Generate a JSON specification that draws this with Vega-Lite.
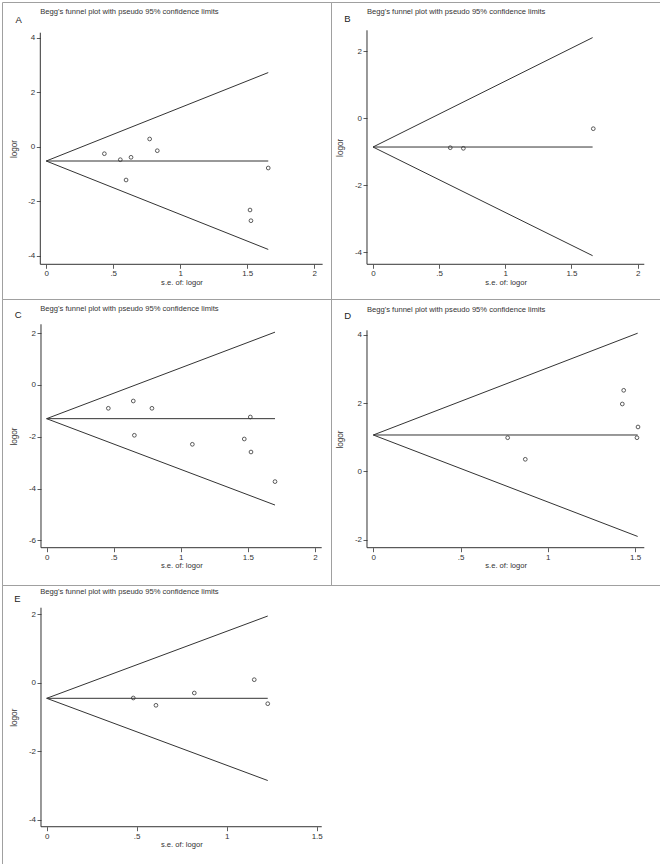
{
  "$schema": "https://vega.github.io/schema/vega-lite/v6.json",
  "background": "white",
  "padding": {"left": 1, "top": 1, "right": 0, "bottom": 0},
  "spacing": 0,
  "columns": 2,
  "bounds": "flush",
  "config": {
    "view": {"stroke": "#a0a0a0", "strokeWidth": 1},
    "font": "Liberation Sans",
    "concat": {"spacing": 0},
    "axis": {"domain": false, "grid": false, "labelFont": "Liberation Sans", "labelFontSize": 8, "labelColor": "#333", "tickColor": "#333", "tickSize": 4, "tickWidth": 0.8, "labelPadding": 1.5, "labelFlush": false, "labelOverlap": false, "titleFont": "Liberation Sans", "titleFontSize": 7.6, "titleFontWeight": "normal", "titleColor": "#333"},
    "axisY": {"titleFontSize": 8.2},
    "title": {"font": "Liberation Sans", "fontSize": 7.6, "fontWeight": "normal", "color": "#333", "anchor": "start", "frame": "group", "offset": 0, "baseline": "alphabetic"}
  },
  "concat": [
    {
      "width": 329, "height": 297,
      "title": {"text": "Begg's funnel plot with pseudo 95% confidence limits", "dx": 38.3, "dy": 17.7},
      "resolve": {"axis": {"x": "independent", "y": "independent"}},
      "layer": [
        {
          "data": {"values": [{"se": 0, "lim": -0.525, "se2": 1.657, "lim2": 2.72}, {"se": 0, "lim": -0.525, "se2": 1.657, "lim2": -0.525}, {"se": 0, "lim": -0.525, "se2": 1.657, "lim2": -3.77}]},
          "mark": {"type": "rule", "stroke": "#333", "strokeWidth": 1},
          "encoding": {
            "x": {"field": "se", "type": "quantitative", "scale": {"domain": [-0.3299, 2.1254], "nice": false, "zero": false}, "axis": {"orient": "top", "title": "A", "labels": false, "ticks": false, "titleX": 13, "titleY": 20.7, "titleAngle": 0, "titleAlign": "left", "titleBaseline": "alphabetic", "titleFontSize": 9.5, "titleColor": "#222"}},
            "x2": {"field": "se2"},
            "y": {"field": "lim", "type": "quantitative", "scale": {"domain": [-5.589, 5.310], "nice": false, "zero": false}, "axis": null},
            "y2": {"field": "lim2"}
          }
        },
        {
          "data": {"values": [{}]},
          "mark": {"type": "rule", "stroke": "#333", "strokeWidth": 1},
          "encoding": {
            "x": {"datum": -0.044, "type": "quantitative", "scale": {"domain": [-0.3299, 2.1254], "nice": false, "zero": false}, "axis": null},
            "y": {"datum": -4.316, "type": "quantitative", "scale": {"domain": [-5.589, 5.310], "nice": false, "zero": false}, "axis": null},
            "y2": {"datum": 4.183}
          }
        },
        {
          "data": {"values": [{}]},
          "mark": {"type": "rule", "stroke": "#333", "strokeWidth": 1},
          "encoding": {
            "x": {"datum": -0.044, "type": "quantitative", "scale": {"domain": [-0.3299, 2.1254], "nice": false, "zero": false}, "axis": null},
            "x2": {"datum": 2.063},
            "y": {"datum": -4.316, "type": "quantitative", "scale": {"domain": [-5.589, 5.310], "nice": false, "zero": false}, "axis": null}
          }
        },
        {
          "data": {"values": [
            {"se": 0.434, "logor": -0.257}, {"se": 0.553, "logor": -0.477}, {"se": 0.633, "logor": -0.389},
            {"se": 0.772, "logor": 0.283}, {"se": 0.829, "logor": -0.147}, {"se": 0.596, "logor": -1.222},
            {"se": 1.521, "logor": -2.323}, {"se": 1.528, "logor": -2.716}, {"se": 1.657, "logor": -0.782}
          ]},
          "mark": {"type": "point", "shape": "circle", "filled": false, "size": 14, "stroke": "#333", "strokeWidth": 0.8, "opacity": 1},
          "encoding": {
            "x": {"field": "se", "type": "quantitative", "scale": {"domain": [-0.3299, 2.1254], "nice": false, "zero": false}, "axis": {"orient": "bottom", "offset": -34.7, "values": [0, 0.5, 1, 1.5, 2], "labelExpr": "datum.value == 0.5 ? '.5' : toString(datum.value)", "title": "s.e. of: logor", "titleX": 179.5, "titleY": 20, "titleBaseline": "alphabetic", "titleAlign": "center"}},
            "y": {"field": "logor", "type": "quantitative", "scale": {"domain": [-5.589, 5.310], "nice": false, "zero": false}, "axis": {"orient": "left", "offset": -38.3, "values": [-4, -2, 0, 2, 4], "labelExpr": "toString(datum.value)", "title": "logor", "titleX": -22.3, "titleY": 146.5, "titleBaseline": "bottom", "titleAlign": "center", "titleAngle": 270}}
          }
        }
      ]
    },
    {
      "width": 329, "height": 297,
      "title": {"text": "Begg's funnel plot with pseudo 95% confidence limits", "dx": 36, "dy": 17.7},
      "resolve": {"axis": {"x": "independent", "y": "independent"}},
      "layer": [
        {
          "data": {"values": [{"se": 0, "lim": -0.866, "se2": 1.66, "lim2": 2.40}, {"se": 0, "lim": -0.866, "se2": 1.66, "lim2": -0.866}, {"se": 0, "lim": -0.866, "se2": 1.66, "lim2": -4.11}]},
          "mark": {"type": "rule", "stroke": "#333", "strokeWidth": 1},
          "encoding": {
            "x": {"field": "se", "type": "quantitative", "scale": {"domain": [-0.3175, 2.1693], "nice": false, "zero": false}, "axis": {"orient": "top", "title": "B", "labels": false, "ticks": false, "titleX": 12.7, "titleY": 19.7, "titleAngle": 0, "titleAlign": "left", "titleBaseline": "alphabetic", "titleFontSize": 9.5, "titleColor": "#222"}},
            "x2": {"field": "se2"},
            "y": {"field": "lim", "type": "quantitative", "scale": {"domain": [-5.403, 3.463], "nice": false, "zero": false}, "axis": null},
            "y2": {"field": "lim2"}
          }
        },
        {
          "data": {"values": [{}]},
          "mark": {"type": "rule", "stroke": "#333", "strokeWidth": 1},
          "encoding": {
            "x": {"datum": -0.0454, "type": "quantitative", "scale": {"domain": [-0.3175, 2.1693], "nice": false, "zero": false}, "axis": null},
            "y": {"datum": -4.367, "type": "quantitative", "scale": {"domain": [-5.403, 3.463], "nice": false, "zero": false}, "axis": null},
            "y2": {"datum": 2.618}
          }
        },
        {
          "data": {"values": [{}]},
          "mark": {"type": "rule", "stroke": "#333", "strokeWidth": 1},
          "encoding": {
            "x": {"datum": -0.0454, "type": "quantitative", "scale": {"domain": [-0.3175, 2.1693], "nice": false, "zero": false}, "axis": null},
            "x2": {"datum": 2.0506},
            "y": {"datum": -4.367, "type": "quantitative", "scale": {"domain": [-5.403, 3.463], "nice": false, "zero": false}, "axis": null}
          }
        },
        {
          "data": {"values": [
            {"se": 0.584, "logor": -0.887}, {"se": 0.683, "logor": -0.905}, {"se": 1.665, "logor": -0.319}
          ]},
          "mark": {"type": "point", "shape": "circle", "filled": false, "size": 14, "stroke": "#333", "strokeWidth": 0.8, "opacity": 1},
          "encoding": {
            "x": {"field": "se", "type": "quantitative", "scale": {"domain": [-0.3175, 2.1693], "nice": false, "zero": false}, "axis": {"orient": "bottom", "offset": -34.7, "values": [0, 0.5, 1, 1.5, 2], "labelExpr": "datum.value == 0.5 ? '.5' : toString(datum.value)", "title": "s.e. of: logor", "titleX": 174.65, "titleY": 20, "titleBaseline": "alphabetic", "titleAlign": "center"}},
            "y": {"field": "logor", "type": "quantitative", "scale": {"domain": [-5.403, 3.463], "nice": false, "zero": false}, "axis": {"orient": "left", "offset": -36, "values": [-4, -2, 0, 2], "labelExpr": "toString(datum.value)", "title": "logor", "titleX": -22.3, "titleY": 145.3, "titleBaseline": "bottom", "titleAlign": "center", "titleAngle": 270}}
          }
        }
      ]
    },
    {
      "width": 329, "height": 286,
      "title": {"text": "Begg's funnel plot with pseudo 95% confidence limits", "dx": 38.3, "dy": 17.7},
      "resolve": {"axis": {"x": "independent", "y": "independent"}},
      "layer": [
        {
          "data": {"values": [{"se": 0, "lim": -1.30, "se2": 1.702, "lim2": 2.04}, {"se": 0, "lim": -1.30, "se2": 1.702, "lim2": -1.30}, {"se": 0, "lim": -1.30, "se2": 1.702, "lim2": -4.635}]},
          "mark": {"type": "rule", "stroke": "#333", "strokeWidth": 1},
          "encoding": {
            "x": {"field": "se", "type": "quantitative", "scale": {"domain": [-0.3323, 2.1192], "nice": false, "zero": false}, "axis": {"orient": "top", "title": "C", "labels": false, "ticks": false, "titleX": 12.3, "titleY": 18.7, "titleAngle": 0, "titleAlign": "left", "titleBaseline": "alphabetic", "titleFontSize": 9.5, "titleColor": "#222"}},
            "x2": {"field": "se2"},
            "y": {"field": "lim", "type": "quantitative", "scale": {"domain": [-7.722, 3.320], "nice": false, "zero": false}, "axis": null},
            "y2": {"field": "lim2"}
          }
        },
        {
          "data": {"values": [{}]},
          "mark": {"type": "rule", "stroke": "#333", "strokeWidth": 1},
          "encoding": {
            "x": {"datum": -0.0417, "type": "quantitative", "scale": {"domain": [-0.3323, 2.1192], "nice": false, "zero": false}, "axis": null},
            "y": {"datum": -6.282, "type": "quantitative", "scale": {"domain": [-7.722, 3.320], "nice": false, "zero": false}, "axis": null},
            "y2": {"datum": 2.344}
          }
        },
        {
          "data": {"values": [{}]},
          "mark": {"type": "rule", "stroke": "#333", "strokeWidth": 1},
          "encoding": {
            "x": {"datum": -0.0417, "type": "quantitative", "scale": {"domain": [-0.3323, 2.1192], "nice": false, "zero": false}, "axis": null},
            "x2": {"datum": 2.050},
            "y": {"datum": -6.282, "type": "quantitative", "scale": {"domain": [-7.722, 3.320], "nice": false, "zero": false}, "axis": null}
          }
        },
        {
          "data": {"values": [
            {"se": 0.460, "logor": -0.90}, {"se": 0.646, "logor": -0.618}, {"se": 0.785, "logor": -0.90},
            {"se": 0.654, "logor": -1.942}, {"se": 1.086, "logor": -2.29}, {"se": 1.473, "logor": -2.085},
            {"se": 1.518, "logor": -1.236}, {"se": 1.523, "logor": -2.587}, {"se": 1.702, "logor": -3.73}
          ]},
          "mark": {"type": "point", "shape": "circle", "filled": false, "size": 14, "stroke": "#333", "strokeWidth": 0.8, "opacity": 1},
          "encoding": {
            "x": {"field": "se", "type": "quantitative", "scale": {"domain": [-0.3323, 2.1192], "nice": false, "zero": false}, "axis": {"orient": "bottom", "offset": -37.3, "values": [0, 0.5, 1, 1.5, 2], "labelExpr": "datum.value == 0.5 ? '.5' : toString(datum.value)", "title": "s.e. of: logor", "titleX": 179.35, "titleY": 20, "titleBaseline": "alphabetic", "titleAlign": "center"}},
            "y": {"field": "logor", "type": "quantitative", "scale": {"domain": [-7.722, 3.320], "nice": false, "zero": false}, "axis": {"orient": "left", "offset": -39, "values": [-6, -4, -2, 0, 2], "labelExpr": "toString(datum.value)", "title": "logor", "titleX": -22.3, "titleY": 137, "titleBaseline": "bottom", "titleAlign": "center", "titleAngle": 270}}
          }
        }
      ]
    },
    {
      "width": 329, "height": 286,
      "title": {"text": "Begg's funnel plot with pseudo 95% confidence limits", "dx": 36, "dy": 18.7},
      "resolve": {"axis": {"x": "independent", "y": "independent"}},
      "layer": [
        {
          "data": {"values": [{"se": 0, "lim": 1.065, "se2": 1.515, "lim2": 4.05}, {"se": 0, "lim": 1.065, "se2": 1.515, "lim2": 1.065}, {"se": 0, "lim": 1.065, "se2": 1.515, "lim2": -1.91}]},
          "mark": {"type": "rule", "stroke": "#333", "strokeWidth": 1},
          "encoding": {
            "x": {"field": "se", "type": "quantitative", "scale": {"domain": [-0.2424, 1.6430], "nice": false, "zero": false}, "axis": {"orient": "top", "title": "D", "labels": false, "ticks": false, "titleX": 12.7, "titleY": 19.7, "titleAngle": 0, "titleAlign": "left", "titleBaseline": "alphabetic", "titleFontSize": 9.5, "titleColor": "#222"}},
            "x2": {"field": "se2"},
            "y": {"field": "lim", "type": "quantitative", "scale": {"domain": [-3.334, 5.053], "nice": false, "zero": false}, "axis": null},
            "y2": {"field": "lim2"}
          }
        },
        {
          "data": {"values": [{}]},
          "mark": {"type": "rule", "stroke": "#333", "strokeWidth": 1},
          "encoding": {
            "x": {"datum": -0.0361, "type": "quantitative", "scale": {"domain": [-0.2424, 1.6430], "nice": false, "zero": false}, "axis": null},
            "y": {"datum": -2.240, "type": "quantitative", "scale": {"domain": [-3.334, 5.053], "nice": false, "zero": false}, "axis": null},
            "y2": {"datum": 4.135}
          }
        },
        {
          "data": {"values": [{}]},
          "mark": {"type": "rule", "stroke": "#333", "strokeWidth": 1},
          "encoding": {
            "x": {"datum": -0.0361, "type": "quantitative", "scale": {"domain": [-0.2424, 1.6430], "nice": false, "zero": false}, "axis": null},
            "x2": {"datum": 1.553},
            "y": {"datum": -2.240, "type": "quantitative", "scale": {"domain": [-3.334, 5.053], "nice": false, "zero": false}, "axis": null}
          }
        },
        {
          "data": {"values": [
            {"se": 0.770, "logor": 0.985}, {"se": 0.871, "logor": 0.352}, {"se": 1.435, "logor": 2.375},
            {"se": 1.427, "logor": 1.974}, {"se": 1.517, "logor": 1.30}, {"se": 1.511, "logor": 0.985}
          ]},
          "mark": {"type": "point", "shape": "circle", "filled": false, "size": 14, "stroke": "#333", "strokeWidth": 0.8, "opacity": 1},
          "encoding": {
            "x": {"field": "se", "type": "quantitative", "scale": {"domain": [-0.2424, 1.6430], "nice": false, "zero": false}, "axis": {"orient": "bottom", "offset": -37.3, "values": [0, 0.5, 1, 1.5], "labelExpr": "datum.value == 0.5 ? '.5' : toString(datum.value)", "title": "s.e. of: logor", "titleX": 174.65, "titleY": 20, "titleBaseline": "alphabetic", "titleAlign": "center"}},
            "y": {"field": "logor", "type": "quantitative", "scale": {"domain": [-3.334, 5.053], "nice": false, "zero": false}, "axis": {"orient": "left", "offset": -36, "values": [-2, 0, 2, 4], "labelExpr": "toString(datum.value)", "title": "logor", "titleX": -22.3, "titleY": 140, "titleBaseline": "bottom", "titleAlign": "center", "titleAngle": 270}}
          }
        }
      ]
    },
    {
      "width": 329, "height": 279,
      "view": {"stroke": "#a0a0a0", "strokeWidth": 1, "strokeDash": [329, 279, 608]},
      "title": {"text": "Begg's funnel plot with pseudo 95% confidence limits", "dx": 38.3, "dy": 14.3},
      "resolve": {"axis": {"x": "independent", "y": "independent"}},
      "layer": [
        {
          "data": {"values": [{"se": 0, "lim": -0.456, "se2": 1.228, "lim2": 1.95}, {"se": 0, "lim": -0.456, "se2": 1.228, "lim2": -0.456}, {"se": 0, "lim": -0.456, "se2": 1.228, "lim2": -2.86}]},
          "mark": {"type": "rule", "stroke": "#333", "strokeWidth": 1},
          "encoding": {
            "x": {"field": "se", "type": "quantitative", "scale": {"domain": [-0.2483, 1.5794], "nice": false, "zero": false}, "axis": {"orient": "top", "title": "E", "labels": false, "ticks": false, "titleX": 11.7, "titleY": 16, "titleAngle": 0, "titleAlign": "left", "titleBaseline": "alphabetic", "titleFontSize": 9.5, "titleColor": "#222"}},
            "x2": {"field": "se2"},
            "y": {"field": "lim", "type": "quantitative", "scale": {"domain": [-5.301, 2.857], "nice": false, "zero": false}, "axis": null},
            "y2": {"field": "lim2"}
          }
        },
        {
          "data": {"values": [{}]},
          "mark": {"type": "rule", "stroke": "#333", "strokeWidth": 1},
          "encoding": {
            "x": {"datum": -0.0317, "type": "quantitative", "scale": {"domain": [-0.2483, 1.5794], "nice": false, "zero": false}, "axis": null},
            "y": {"datum": -4.211, "type": "quantitative", "scale": {"domain": [-5.301, 2.857], "nice": false, "zero": false}, "axis": null},
            "y2": {"datum": 2.193}
          }
        },
        {
          "data": {"values": [{}]},
          "mark": {"type": "rule", "stroke": "#333", "strokeWidth": 1},
          "encoding": {
            "x": {"datum": -0.0317, "type": "quantitative", "scale": {"domain": [-0.2483, 1.5794], "nice": false, "zero": false}, "axis": null},
            "x2": {"datum": 1.528},
            "y": {"datum": -4.211, "type": "quantitative", "scale": {"domain": [-5.301, 2.857], "nice": false, "zero": false}, "axis": null}
          }
        },
        {
          "data": {"values": [
            {"se": 0.481, "logor": -0.447}, {"se": 0.607, "logor": -0.661}, {"se": 0.820, "logor": -0.301},
            {"se": 1.153, "logor": 0.088}, {"se": 1.228, "logor": -0.614}
          ]},
          "mark": {"type": "point", "shape": "circle", "filled": false, "size": 14, "stroke": "#333", "strokeWidth": 0.8, "opacity": 1},
          "encoding": {
            "x": {"field": "se", "type": "quantitative", "scale": {"domain": [-0.2483, 1.5794], "nice": false, "zero": false}, "axis": {"orient": "bottom", "offset": -37.3, "values": [0, 0.5, 1, 1.5], "labelExpr": "datum.value == 0.5 ? '.5' : toString(datum.value)", "title": "s.e. of: logor", "titleX": 179.35, "titleY": 20, "titleBaseline": "alphabetic", "titleAlign": "center"}},
            "y": {"field": "logor", "type": "quantitative", "scale": {"domain": [-5.301, 2.857], "nice": false, "zero": false}, "axis": {"orient": "left", "offset": -39, "values": [-4, -2, 0, 2], "labelExpr": "toString(datum.value)", "title": "logor", "titleX": -22.3, "titleY": 132.2, "titleBaseline": "bottom", "titleAlign": "center", "titleAngle": 270}}
          }
        }
      ]
    },
    {
      "width": 329, "height": 279,
      "view": {"stroke": "#a0a0a0", "strokeWidth": 1, "strokeDash": [937, 279]},
      "data": {"values": []},
      "mark": "point"
    }
  ]
}
